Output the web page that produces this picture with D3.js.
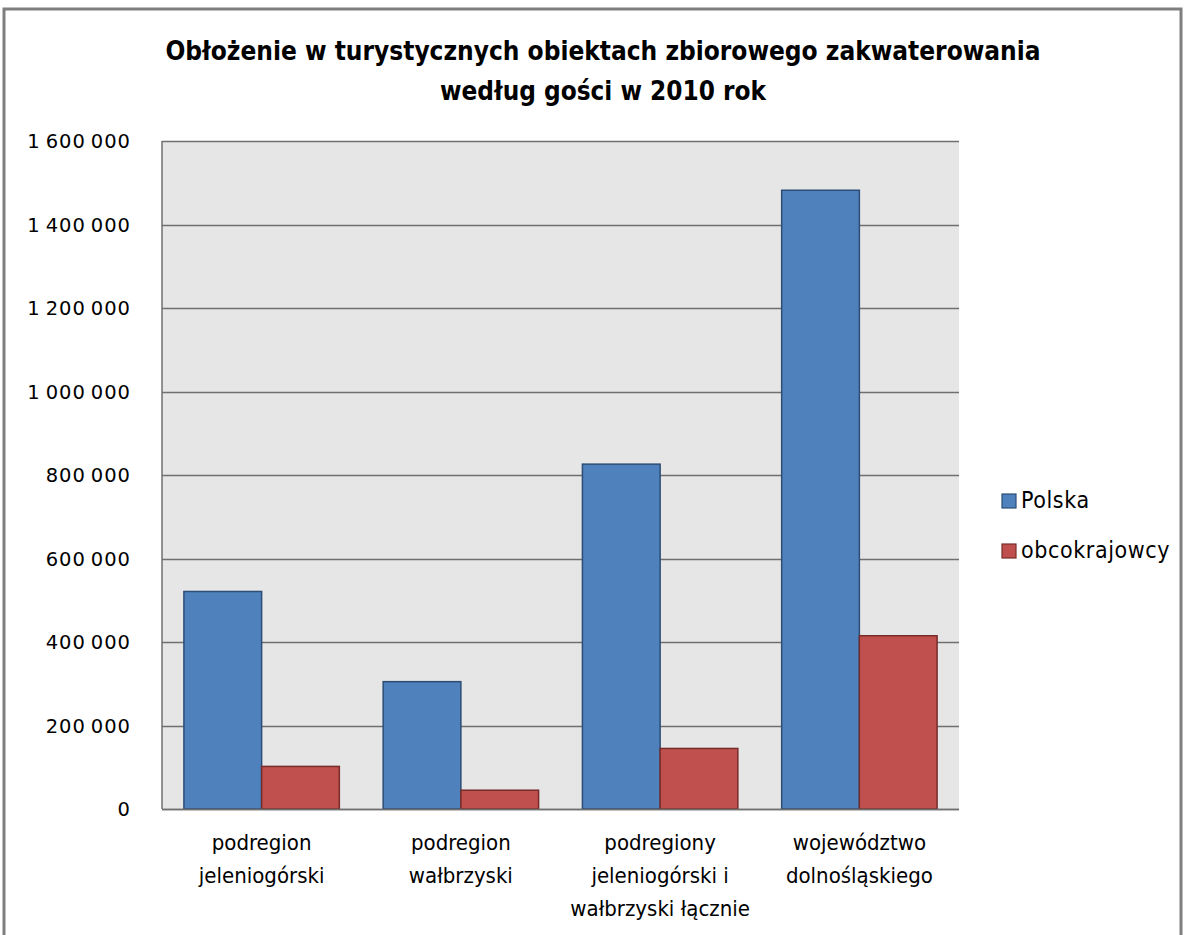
<!DOCTYPE html>
<html><head><meta charset="utf-8">
<script src="https://cdn.jsdelivr.net/npm/d3@7"></script>
<style>
html,body{margin:0;padding:0;background:#fff;}
svg{display:block;}
</style></head>
<body>
<svg id="chart" width="1185" height="935"></svg>
<script>
const categories = [
  ["podregion", "jeleniogórski"],
  ["podregion", "wałbrzyski"],
  ["podregiony", "jeleniogórski i", "wałbrzyski łącznie"],
  ["województwo", "dolnośląskiego"]
];
const seriesNames = ["Polska", "obcokrajowcy"];
const polska = [521000, 305000, 826000, 1482000];
const obcokrajowcy = [102000, 45000, 145000, 415000];
const yTicks = [0, 200000, 400000, 600000, 800000, 1000000, 1200000, 1400000, 1600000];
const titleLines = ["Obłożenie w turystycznych obiektach zbiorowego zakwaterowania", "według gości w 2010 rok"];

const colors = ["#4F81BD", "#C0504D"];
const strokes = ["#2C4D75", "#772C2A"];
const narrow = "'Liberation Sans Narrow','DejaVu Sans Condensed','Open Sans',sans-serif";

const svg = d3.select("#chart");
// outer chart border
svg.append("rect").attr("x", 4).attr("y", 9).attr("width", 1177).attr("height", 940)
  .attr("fill", "none").attr("stroke", "#7f7f7f").attr("stroke-width", 3);

const m = {left: 162, right: 959, top: 141, bottom: 809};
const x0 = d3.scaleBand().domain(d3.range(categories.length)).range([m.left, m.right]).paddingInner(0.22).paddingOuter(0.11);
const x1 = d3.scaleBand().domain([0, 1]).range([0, x0.bandwidth()]);
const y = d3.scaleLinear().domain([0, 1600000]).range([m.bottom, m.top]);

// plot background
svg.append("rect").attr("x", m.left).attr("y", m.top).attr("width", m.right - m.left).attr("height", m.bottom - m.top).attr("fill", "#e6e6e6");

// gridlines
svg.append("g").selectAll("line").data(yTicks).join("line")
  .attr("x1", m.left).attr("x2", m.right)
  .attr("y1", d => Math.round(y(d)) + 0.5).attr("y2", d => Math.round(y(d)) + 0.5)
  .attr("stroke", "#6f6f6f").attr("stroke-width", 1.5);

// y axis labels
const loc = d3.formatLocale({decimal: ",", thousands: "\u2009", grouping: [3], currency: ["", ""]});
const fmt = loc.format(",d");
svg.append("g").selectAll("text").data(yTicks).join("text")
  .attr("x", 131).attr("y", d => y(d) + 7)
  .attr("text-anchor", "end")
  .attr("font-family", "'DejaVu Sans',Verdana,sans-serif").attr("font-size", 19.5)
  .attr("letter-spacing", 1.0)
  .attr("fill", "#000").text(d => fmt(d));

// bars
const data = categories.map((c, i) => [polska[i], obcokrajowcy[i]]);
const groups = svg.append("g").selectAll("g").data(data).join("g")
  .attr("transform", (d, i) => `translate(${x0(i)},0)`);
groups.selectAll("rect").data(d => d.map((v, k) => ({v, k}))).join("rect")
  .attr("x", d => x1(d.k)).attr("width", x1.bandwidth())
  .attr("y", d => y(d.v)).attr("height", d => y(0) - y(d.v))
  .attr("fill", d => colors[d.k]).attr("stroke", d => strokes[d.k]).attr("stroke-width", 1.5);

// axis lines
svg.append("line").attr("x1", m.left).attr("x2", m.left).attr("y1", m.top).attr("y2", m.bottom)
  .attr("stroke", "#6f6f6f").attr("stroke-width", 1.5);
svg.append("line").attr("x1", m.left).attr("x2", m.right).attr("y1", m.bottom + 0.5).attr("y2", m.bottom + 0.5)
  .attr("stroke", "#6f6f6f").attr("stroke-width", 1.5);

// category labels
categories.forEach((lines, i) => {
  const cx = x0(i) + x0.bandwidth() / 2;
  lines.forEach((t, j) => {
    svg.append("text").attr("x", cx).attr("y", 850 + j * 33)
      .attr("text-anchor", "middle").attr("font-family", narrow).attr("font-size", 22)
      .attr("fill", "#000").text(t);
  });
});

// title
const titleWidths = [875, 326];
titleLines.forEach((t, j) => {
  svg.append("text").attr("x", 603).attr("y", 60 + j * 40)
    .attr("text-anchor", "middle").attr("font-family", narrow).attr("font-weight", "bold")
    .attr("font-size", 27).attr("fill", "#000")
    .attr("textLength", titleWidths[j]).attr("lengthAdjust", "spacingAndGlyphs").text(t);
});

// legend
const leg = svg.append("g");
seriesNames.forEach((n, k) => {
  const yy = 494 + k * 50;
  leg.append("rect").attr("x", 1002).attr("y", yy).attr("width", 14).attr("height", 14)
    .attr("fill", colors[k]).attr("stroke", strokes[k]).attr("stroke-width", 1.2);
  leg.append("text").attr("x", 1021).attr("y", yy + 14)
    .attr("font-family", narrow).attr("font-size", 23).attr("letter-spacing", 0.6).attr("fill", "#000").text(n);
});
</script>
</body></html>
